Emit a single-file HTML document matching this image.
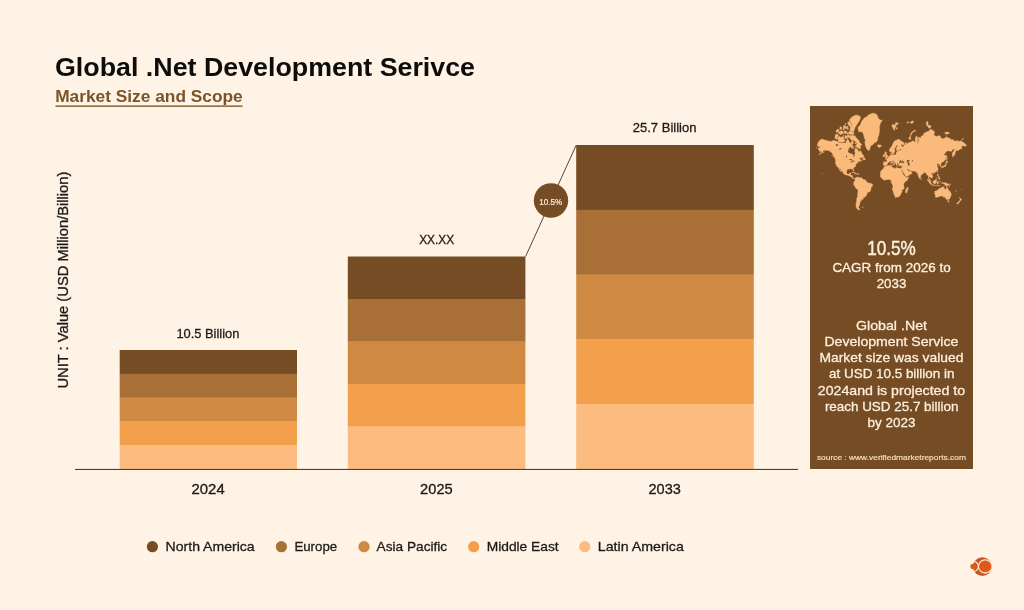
<!DOCTYPE html>
<html lang="en">
<head>
<meta charset="utf-8">
<title>Global .Net Development Serivce - Market Size and Scope</title>
<style>
html,body{margin:0;padding:0;background:#fef3e4;}
body{width:1024px;height:610px;overflow:hidden;font-family:"Liberation Sans", Arial, Helvetica, sans-serif;}
svg{display:block;font-family:"Liberation Sans", Arial, Helvetica, sans-serif;}
</style>
</head>
<body>
<svg width="1024" height="610" viewBox="0 0 1024 610">
<rect x="0" y="0" width="1024" height="610" fill="#fef3e4"/>
<text x="55.0" y="75.5" font-size="25" font-weight="700" fill="#0f0d0c" text-anchor="start" textLength="420" lengthAdjust="spacingAndGlyphs">Global .Net Development Serivce</text>
<text x="55.2" y="102" font-size="16.7" font-weight="700" fill="#7a5329" text-anchor="start" textLength="187.5" lengthAdjust="spacingAndGlyphs">Market Size and Scope</text>
<rect x="55.5" y="105.4" width="187" height="1.5" fill="#8a6336"/>
<text transform="translate(67.5,388.6) rotate(-90)" font-size="14.5" fill="#1e1a17" stroke="#1e1a17" stroke-width="0.3" textLength="217" lengthAdjust="spacingAndGlyphs">UNIT : Value (USD Million/Billion)</text>
<rect x="119.7" y="350.00" width="177.3" height="24.10" fill="#754c24"/>
<rect x="119.7" y="373.80" width="177.3" height="24.10" fill="#a86f37"/>
<rect x="119.7" y="397.60" width="177.3" height="24.10" fill="#d08943"/>
<rect x="119.7" y="421.40" width="177.3" height="24.10" fill="#f3a04d"/>
<rect x="119.7" y="445.20" width="177.3" height="24.10" fill="#fdbc7f"/>
<rect x="347.8" y="256.50" width="177.59999999999997" height="42.80" fill="#754c24"/>
<rect x="347.8" y="299.00" width="177.59999999999997" height="42.80" fill="#a86f37"/>
<rect x="347.8" y="341.50" width="177.59999999999997" height="42.80" fill="#d08943"/>
<rect x="347.8" y="384.00" width="177.59999999999997" height="42.80" fill="#f3a04d"/>
<rect x="347.8" y="426.50" width="177.59999999999997" height="42.80" fill="#fdbc7f"/>
<rect x="576.2" y="145.00" width="177.5999999999999" height="65.10" fill="#754c24"/>
<rect x="576.2" y="209.80" width="177.5999999999999" height="65.10" fill="#a86f37"/>
<rect x="576.2" y="274.60" width="177.5999999999999" height="65.10" fill="#d08943"/>
<rect x="576.2" y="339.40" width="177.5999999999999" height="65.10" fill="#f3a04d"/>
<rect x="576.2" y="404.20" width="177.5999999999999" height="65.10" fill="#fdbc7f"/>
<rect x="75" y="468.9" width="723" height="1.1" fill="#4a4038"/>
<line x1="525.6" y1="256.5" x2="576.2" y2="145.2" stroke="#3c342e" stroke-width="0.9"/>
<circle cx="551" cy="200.5" r="17.2" fill="#754c24"/>
<text x="539.3" y="205.2" font-size="9.8" font-weight="400" fill="#fdf0de" stroke="#fdf0de" stroke-width="0.22" text-anchor="start" textLength="22.9" lengthAdjust="spacingAndGlyphs">10.5%</text>
<text x="176.4" y="337.7" font-size="13.3" font-weight="400" fill="#1e1a17" stroke="#1e1a17" stroke-width="0.29" text-anchor="start" textLength="63" lengthAdjust="spacingAndGlyphs">10.5 Billion</text>
<text x="419.2" y="243.7" font-size="13.3" font-weight="400" fill="#1e1a17" stroke="#1e1a17" stroke-width="0.29" text-anchor="start" textLength="35" lengthAdjust="spacingAndGlyphs">XX.XX</text>
<text x="632.8" y="132.1" font-size="13.3" font-weight="400" fill="#1e1a17" stroke="#1e1a17" stroke-width="0.29" text-anchor="start" textLength="63.6" lengthAdjust="spacingAndGlyphs">25.7 Billion</text>
<text x="191.5" y="493.7" font-size="15" font-weight="400" fill="#1e1a17" stroke="#1e1a17" stroke-width="0.33" text-anchor="start" textLength="33.2" lengthAdjust="spacingAndGlyphs">2024</text>
<text x="420.1" y="493.7" font-size="15" font-weight="400" fill="#1e1a17" stroke="#1e1a17" stroke-width="0.33" text-anchor="start" textLength="32.6" lengthAdjust="spacingAndGlyphs">2025</text>
<text x="648.5" y="493.7" font-size="15" font-weight="400" fill="#1e1a17" stroke="#1e1a17" stroke-width="0.33" text-anchor="start" textLength="32.3" lengthAdjust="spacingAndGlyphs">2033</text>
<circle cx="152.4" cy="546.7" r="5.6" fill="#754c24"/>
<text x="165.6" y="550.6" font-size="13.3" font-weight="400" fill="#1e1a17" stroke="#1e1a17" stroke-width="0.29" text-anchor="start" textLength="89" lengthAdjust="spacingAndGlyphs">North America</text>
<circle cx="281.4" cy="546.7" r="5.6" fill="#a86f37"/>
<text x="294.4" y="550.6" font-size="13.3" font-weight="400" fill="#1e1a17" stroke="#1e1a17" stroke-width="0.29" text-anchor="start" textLength="42.8" lengthAdjust="spacingAndGlyphs">Europe</text>
<circle cx="364" cy="546.7" r="5.6" fill="#d08943"/>
<text x="376.6" y="550.6" font-size="13.3" font-weight="400" fill="#1e1a17" stroke="#1e1a17" stroke-width="0.29" text-anchor="start" textLength="70.6" lengthAdjust="spacingAndGlyphs">Asia Pacific</text>
<circle cx="473.7" cy="546.7" r="5.6" fill="#f3a04d"/>
<text x="486.7" y="550.6" font-size="13.3" font-weight="400" fill="#1e1a17" stroke="#1e1a17" stroke-width="0.29" text-anchor="start" textLength="72" lengthAdjust="spacingAndGlyphs">Middle East</text>
<circle cx="584.7" cy="546.7" r="5.6" fill="#fdbc7f"/>
<text x="597.8" y="550.6" font-size="13.3" font-weight="400" fill="#1e1a17" stroke="#1e1a17" stroke-width="0.29" text-anchor="start" textLength="86" lengthAdjust="spacingAndGlyphs">Latin America</text>
<rect x="810" y="106" width="163" height="363" fill="#754c24"/>
<path d="M817.2,145.4 818.1,142.5 819.7,140.2 822.0,138.9 824.8,139.9 828.5,141.0 831.0,141.4 833.9,140.2 835.2,141.1 837.3,141.3 839.3,142.9 842.3,143.1 844.8,143.1 846.9,142.3 847.5,138.2 848.9,141.1 849.8,142.3 851.0,143.4 851.9,141.1 853.1,140.9 853.3,144.0 851.4,144.8 851.0,146.5 849.6,147.3 848.5,149.3 847.9,151.4 848.7,152.9 850.6,153.5 851.9,154.2 853.0,154.3 853.1,155.9 853.7,157.0 854.4,156.9 854.4,155.1 855.3,153.3 854.6,151.5 855.0,150.1 854.8,148.5 856.4,148.5 858.1,149.7 858.3,151.5 859.8,151.5 860.4,150.3 861.4,152.5 862.3,154.1 863.5,155.5 864.1,156.5 862.9,157.0 862.3,157.7 859.8,157.7 858.5,158.9 860.2,158.4 860.4,159.4 860.4,160.2 861.9,160.5 862.3,160.2 861.7,160.8 860.6,161.3 859.8,161.8 859.8,161.1 859.4,160.9 858.5,161.5 857.9,162.0 857.8,162.7 858.1,162.8 857.3,163.1 856.4,163.4 856.4,164.0 855.8,164.6 855.6,165.4 855.8,166.2 855.0,166.8 854.1,167.4 853.5,168.1 853.4,169.1 853.9,170.3 853.9,171.1 853.4,171.1 852.8,169.9 852.8,169.3 852.3,168.9 851.6,169.0 850.6,168.7 850.0,168.8 850.1,169.3 849.4,169.2 848.1,169.1 846.9,169.9 846.7,171.0 846.5,172.4 847.1,173.7 847.9,174.3 848.9,174.1 849.6,173.6 849.6,173.0 851.0,172.8 850.8,173.9 850.5,175.0 850.4,175.3 851.9,175.3 852.6,175.7 852.4,177.2 852.9,178.1 853.5,178.3 854.1,178.0 855.1,178.4 854.9,178.9 854.4,178.3 853.8,178.9 852.8,178.6 851.9,177.8 851.5,177.4 850.8,176.5 849.8,176.2 848.8,175.8 847.9,175.2 846.9,175.3 845.6,174.8 844.6,174.4 843.4,173.6 843.3,172.8 842.9,171.9 841.7,170.8 840.6,169.5 840.2,168.3 839.5,168.1 839.6,168.9 840.4,170.1 841.0,171.0 841.6,172.0 841.3,172.1 840.5,171.2 839.7,170.2 839.4,169.8 839.0,168.9 838.5,167.7 837.9,166.9 837.0,166.7 836.5,165.6 836.2,165.0 835.7,164.0 835.5,163.6 835.5,162.1 835.6,160.2 835.3,158.9 836.0,158.6 835.9,158.3 835.2,157.7 834.1,157.2 833.9,156.2 833.1,154.8 832.5,153.8 831.6,152.5 830.6,151.9 829.8,151.2 828.9,150.7 827.3,150.5 826.0,149.9 825.4,150.5 824.1,151.1 824.5,149.5 823.7,150.1 823.1,151.5 822.0,152.7 821.2,153.5 820.0,154.3 818.6,154.7 819.7,153.8 820.6,153.3 821.6,151.7 821.0,151.8 819.7,151.6 819.7,150.5 818.5,149.9 818.1,148.8 818.7,147.7 820.2,147.4 820.2,146.5 818.9,146.5 817.9,146.3ZM835.8,158.9 835.0,158.6 833.8,157.4 834.3,157.3 835.2,157.9 835.7,158.6ZM862.6,159.4 863.9,159.8 865.2,160.0 865.3,159.4 865.0,158.3 864.2,157.9 864.1,156.9 863.4,157.3 863.1,158.2 862.6,159.0ZM869.0,150.6 867.3,149.7 866.2,147.9 865.6,146.0 865.0,144.0 864.8,141.1 865.8,140.5 864.4,138.6 863.9,135.9 862.9,132.7 861.0,131.5 858.7,131.9 858.1,129.2 857.9,127.6 860.2,125.0 861.7,121.3 864.4,117.8 866.4,116.9 869.0,114.5 873.5,113.1 876.9,114.5 878.5,118.4 880.2,119.9 882.3,119.9 880.2,123.8 879.4,127.2 879.6,131.0 879.0,133.6 879.2,135.1 878.1,136.6 878.1,138.0 877.3,138.6 878.1,139.9 877.3,140.5 876.2,142.2 874.4,142.8 873.1,144.5 871.7,145.3 870.6,146.0 870.2,147.9 869.6,149.3 869.4,150.5ZM877.3,145.5 878.1,144.8 879.8,145.0 881.0,145.0 881.5,146.0 880.8,146.6 879.6,147.4 878.1,147.1 878.2,146.3 877.4,146.1ZM854.9,178.9 855.0,178.4 855.8,178.0 855.9,177.5 856.9,177.2 857.6,176.8 857.4,177.6 858.1,177.2 858.8,177.6 860.4,177.7 861.4,177.5 861.9,178.0 862.3,178.5 863.3,179.4 864.8,179.6 865.8,180.2 866.4,181.3 866.4,182.0 867.2,182.3 868.7,183.0 870.0,183.2 871.2,183.6 872.6,184.2 872.7,185.1 872.5,186.0 871.8,186.8 871.1,187.5 871.0,188.8 870.8,189.8 870.3,191.2 869.8,191.8 868.7,192.0 867.9,192.4 867.1,193.1 867.0,194.3 866.2,195.6 865.5,196.2 865.0,197.1 864.4,197.5 863.4,197.3 863.0,197.1 863.4,198.2 863.3,199.3 861.4,199.6 861.3,200.7 860.2,200.8 860.7,201.6 860.1,202.2 860.0,203.1 859.2,203.7 859.9,204.8 859.2,205.8 858.5,206.8 858.8,207.7 858.7,208.0 860.1,209.4 859.4,209.9 858.1,209.7 857.3,209.0 856.4,208.0 856.0,206.5 856.2,204.9 855.8,204.1 856.4,202.5 856.7,201.3 856.5,200.0 856.7,198.7 857.1,197.6 857.5,196.3 857.5,195.1 857.7,193.7 857.9,192.1 858.0,190.3 857.9,189.8 857.3,189.3 856.0,188.5 855.5,187.8 855.1,187.0 854.6,186.0 854.0,185.0 853.4,184.5 853.4,183.8 853.9,183.3 853.6,182.9 853.7,182.2 853.9,181.7 854.4,181.4 854.6,180.9 855.1,180.4 855.0,179.5ZM884.8,166.0 886.5,166.3 887.7,165.6 889.4,165.5 891.1,165.3 891.9,165.4 891.6,166.7 891.5,166.9 892.0,167.3 892.7,167.5 893.7,167.8 895.2,168.7 895.6,168.4 895.6,167.7 896.5,167.5 897.7,168.1 899.4,168.4 900.2,168.1 900.8,168.3 900.9,168.9 901.4,170.1 902.1,171.7 902.7,173.0 902.9,173.9 903.4,174.4 903.8,175.5 904.5,175.9 905.3,176.7 905.4,177.2 905.9,177.6 906.9,177.3 908.7,177.0 908.5,178.0 907.9,179.1 907.3,180.1 906.5,181.0 905.6,181.6 904.8,182.4 904.2,183.0 903.7,184.0 903.5,184.7 903.8,185.6 904.0,186.4 904.2,188.1 903.8,189.0 902.7,189.5 901.9,190.4 902.1,191.4 902.1,192.3 901.1,193.0 901.0,193.9 900.4,194.9 899.8,195.9 898.8,196.8 898.0,197.1 896.7,197.1 895.6,197.5 895.0,197.2 894.9,196.3 894.5,195.1 894.1,194.5 893.6,193.5 893.3,191.8 892.5,189.9 892.2,189.0 892.7,187.5 893.0,186.5 892.8,185.7 892.4,184.5 892.2,183.9 891.4,183.0 891.0,182.3 891.3,181.6 891.3,180.5 891.0,180.1 890.2,180.2 889.6,179.7 889.1,179.4 888.1,179.4 886.9,179.8 886.5,180.0 885.4,179.8 884.2,180.2 883.4,179.7 882.5,179.1 881.8,178.4 881.5,177.9 881.0,177.4 880.3,176.8 880.0,175.8 880.4,175.2 880.5,173.9 880.2,173.0 880.6,171.8 881.1,170.8 881.9,169.9 882.5,169.6 883.1,169.1 883.3,168.4 883.5,167.7 884.0,167.2 884.5,166.9ZM907.9,187.0 908.3,188.5 907.9,189.2 907.5,190.5 907.1,191.9 906.9,192.8 906.1,193.0 905.6,192.8 905.4,191.6 905.8,190.5 905.6,189.4 906.5,188.7 907.3,187.7ZM885.0,165.9 884.6,165.4 883.6,165.4 883.3,164.5 883.6,162.9 883.4,162.1 884.0,161.7 885.6,161.8 886.5,161.9 886.8,161.2 886.8,160.3 886.4,159.6 885.4,159.2 885.3,158.8 886.6,158.7 886.5,158.0 887.4,158.2 888.0,157.3 888.8,156.9 889.3,155.8 890.2,155.5 891.0,155.1 890.8,154.1 890.7,152.9 891.7,152.4 891.6,153.7 891.4,154.4 891.5,154.8 891.9,155.1 893.1,155.1 895.0,154.6 895.4,154.9 896.1,154.2 896.1,152.9 897.1,151.2 899.0,150.9 899.8,150.5 897.7,150.4 896.7,150.5 896.2,149.7 896.3,147.9 897.7,146.0 897.3,145.2 896.5,145.3 896.1,146.5 894.6,148.4 894.5,149.7 895.1,150.5 894.8,151.4 894.2,152.5 894.0,153.5 893.3,154.1 892.7,154.1 892.5,153.5 892.1,152.2 891.9,151.4 890.6,152.1 889.6,151.5 889.4,149.7 889.8,148.4 891.1,147.2 891.9,146.0 892.7,144.0 893.6,142.3 894.8,140.8 896.3,140.3 898.1,139.2 899.2,139.3 900.2,140.2 901.1,141.1 902.3,141.5 904.4,143.4 904.5,144.3 903.4,144.9 901.5,144.3 901.1,144.5 901.8,146.5 902.9,147.1 903.1,146.5 904.0,146.3 904.0,145.0 905.6,144.8 905.4,142.3 906.5,142.9 906.7,144.0 909.4,142.3 911.5,142.0 912.5,140.8 914.2,141.4 915.2,142.0 915.9,142.5 915.2,140.5 915.2,139.3 915.9,136.6 916.5,136.2 917.7,136.9 917.5,139.3 917.7,141.7 917.5,144.3 918.2,142.9 918.6,140.5 918.4,137.3 919.8,137.7 920.9,138.0 921.1,135.9 923.4,135.4 923.6,133.6 926.5,131.9 929.0,131.0 930.8,128.8 931.9,130.1 934.0,131.0 934.6,132.7 933.6,135.1 934.4,135.4 936.9,136.6 939.0,135.6 940.3,135.9 941.3,138.6 942.3,138.6 944.0,138.6 945.7,137.3 948.2,137.6 949.8,138.6 951.1,139.4 953.6,139.7 954.0,140.9 956.1,141.0 958.2,140.5 958.6,141.7 960.7,140.8 962.4,141.7 964.4,143.2 966.5,144.9 965.5,146.6 963.4,145.7 962.4,146.0 961.7,146.5 961.3,146.3 961.9,147.9 962.1,148.5 960.3,149.0 959.0,149.9 958.3,150.5 956.5,150.5 955.9,150.7 955.5,152.2 954.9,152.3 955.3,153.7 954.9,154.6 954.0,155.8 953.4,155.9 952.6,157.2 952.4,155.8 952.2,154.1 952.4,152.9 953.2,151.9 954.0,150.5 955.3,149.3 955.7,148.4 954.4,149.7 954.0,149.0 952.8,149.2 951.9,150.9 950.7,151.4 949.4,150.9 946.9,151.1 945.7,152.5 944.6,154.1 943.7,154.6 944.4,155.1 945.7,155.5 946.2,156.3 945.9,157.9 945.7,159.1 945.1,160.0 944.0,161.2 943.0,162.1 942.3,162.0 941.8,162.4 941.4,163.2 940.5,163.9 940.8,164.5 941.3,165.4 941.2,166.1 940.7,166.4 940.1,166.7 940.0,166.1 940.2,165.4 939.4,164.8 939.6,164.0 939.0,163.9 938.0,164.3 937.8,164.4 938.2,163.5 937.8,163.3 936.9,164.2 936.4,164.3 936.8,164.8 937.0,165.3 938.4,165.2 937.5,165.8 937.0,166.4 937.5,167.2 938.1,168.0 938.1,168.5 937.8,168.7 938.2,169.0 938.0,169.7 937.3,170.5 937.0,171.0 936.5,171.5 935.9,172.1 934.9,172.5 934.0,172.7 933.4,172.9 933.3,173.4 933.0,172.8 932.3,172.8 931.8,173.1 931.4,173.9 931.7,174.6 932.5,175.2 932.9,176.5 932.8,177.2 931.9,177.6 931.8,178.0 931.1,178.4 931.1,177.8 930.5,177.6 930.0,177.0 929.4,176.7 929.2,176.3 929.0,176.7 928.8,177.6 929.0,178.2 929.2,179.0 929.8,179.2 930.4,179.9 930.5,180.5 930.8,181.4 930.4,181.5 929.5,180.8 929.2,180.1 929.1,179.4 928.3,178.7 928.4,177.8 928.5,177.0 928.2,176.1 928.0,175.0 927.3,174.9 927.0,175.3 926.6,175.2 926.7,174.4 926.3,173.5 925.7,173.0 925.6,172.4 925.0,172.6 924.4,172.7 923.6,172.8 923.5,173.4 922.7,173.7 921.6,174.9 920.7,175.5 920.7,176.4 920.6,177.7 920.2,178.1 919.9,178.3 919.6,178.6 919.1,177.9 918.6,176.7 918.3,175.8 917.9,174.8 917.7,173.9 917.7,173.0 917.5,172.6 916.9,173.1 916.1,172.5 916.5,172.1 915.7,171.8 915.2,171.3 915.0,171.0 913.0,171.1 911.5,171.0 911.1,170.3 910.8,170.2 909.8,170.5 908.8,169.9 908.4,169.1 907.7,168.7 907.3,168.9 907.3,169.2 907.6,169.8 908.2,170.4 908.2,171.0 908.8,170.8 908.8,171.5 909.8,171.6 910.8,170.7 910.9,171.5 911.8,171.9 912.2,172.4 911.7,173.3 911.4,173.9 910.3,174.6 909.0,175.2 907.6,176.1 906.1,176.6 905.4,176.7 905.1,175.8 905.1,175.0 904.4,173.9 903.6,172.8 902.9,171.5 902.1,170.1 901.8,169.5 901.9,169.1 901.6,169.8 901.6,170.0 901.1,169.5 900.9,168.9 900.8,168.3 901.6,168.2 901.9,167.5 902.2,166.4 902.4,165.6 901.5,165.7 900.6,165.8 900.1,165.5 899.4,165.7 898.8,165.4 898.3,164.7 898.6,164.3 898.2,163.8 898.8,163.6 899.4,163.5 899.5,163.1 900.4,163.1 901.3,162.7 901.9,162.7 902.5,163.1 903.4,163.3 904.6,162.9 904.4,162.1 903.6,161.5 902.9,160.9 903.1,160.3 903.7,159.6 903.1,159.7 902.5,159.9 901.9,160.2 902.0,160.8 902.5,160.8 902.0,161.0 901.4,161.3 900.9,160.7 901.3,160.3 900.6,160.0 900.1,160.1 899.7,160.8 899.2,161.7 898.9,162.3 899.0,162.9 899.4,163.1 899.0,163.2 898.5,163.4 898.1,163.3 897.3,163.3 897.2,163.8 896.8,163.6 896.8,164.2 897.1,164.6 897.3,165.0 896.9,165.2 896.9,165.6 896.6,165.6 896.3,165.5 896.1,164.8 896.0,164.3 895.6,163.8 895.4,162.9 895.0,162.4 894.0,161.8 893.3,160.9 893.0,160.6 892.4,160.8 892.5,161.4 893.0,161.8 893.3,162.5 894.0,162.7 895.0,163.7 894.4,163.6 894.2,164.0 894.4,164.3 894.0,164.8 893.8,164.8 894.0,164.2 893.8,163.8 893.3,163.3 892.4,162.8 891.7,162.2 891.6,161.6 891.0,161.3 890.4,161.6 889.6,161.9 888.6,162.0 888.6,162.5 888.2,163.0 887.5,163.4 887.2,164.0 887.4,164.4 887.0,165.0 886.4,165.5 885.5,165.5ZM891.9,153.9 892.5,153.7 892.5,154.3 892.1,154.5ZM884.9,157.9 886.0,157.5 887.8,157.1 888.0,156.0 887.4,155.7 887.2,155.1 886.7,154.4 886.5,153.7 886.5,152.5 885.8,152.4 886.0,151.7 885.2,151.7 884.9,152.5 884.7,153.3 885.1,154.1 885.3,154.6 886.0,155.1 886.0,155.6 885.4,155.6 885.5,156.2 885.1,156.7 886.0,156.9 885.4,157.2ZM883.1,156.8 884.0,156.7 884.7,156.4 884.8,155.5 885.0,154.8 884.7,154.3 883.9,154.3 883.1,155.0 883.2,155.6 883.0,156.4ZM941.9,166.9 942.6,166.1 943.8,166.1 944.3,165.2 945.1,165.2 945.6,164.3 945.7,163.5 946.2,163.0 946.4,163.8 946.5,164.0 946.1,164.7 946.0,165.5 946.0,166.0 945.6,166.4 945.2,166.6 944.4,166.6 944.3,166.8 943.9,167.2 943.6,166.7 942.8,166.8 942.3,167.0ZM945.7,162.9 945.8,162.0 946.4,160.7 946.9,161.4 947.9,161.4 948.0,161.9 947.1,162.7 946.1,162.4 945.9,162.7ZM941.5,167.2 942.2,167.1 942.3,167.7 941.9,168.2 941.6,168.3 941.5,167.7 941.4,167.3ZM942.6,167.0 943.4,166.8 943.3,167.2 942.8,167.5 942.5,167.3ZM946.5,154.9 946.9,155.8 947.1,157.2 946.9,158.3 947.6,158.5 946.9,159.4 947.1,160.2 946.5,160.3 946.5,159.1 946.5,157.5 946.4,156.5ZM938.0,171.1 938.2,171.5 937.7,172.6 937.3,172.1 937.7,171.3ZM932.6,173.8 933.2,173.4 933.6,173.7 933.2,174.2 932.7,174.1ZM920.6,177.9 921.2,178.4 921.4,179.1 921.1,179.5 920.7,179.5 920.5,178.7ZM927.0,179.7 928.0,179.8 929.1,180.8 930.5,181.8 930.9,182.6 931.5,183.3 931.4,184.4 930.9,184.4 930.0,183.7 929.2,182.5 928.5,181.3 927.7,180.7ZM931.2,184.8 931.7,184.5 932.5,184.7 933.5,184.7 934.3,184.9 935.0,185.3 935.0,185.6 933.6,185.5 932.5,185.3 931.7,185.1ZM932.8,181.4 933.0,181.2 933.7,180.8 934.4,180.6 935.3,179.9 936.0,179.1 936.4,179.4 937.0,179.8 936.5,180.2 936.4,181.0 936.9,181.6 936.3,182.3 935.9,183.0 935.7,183.7 935.0,183.7 934.4,183.4 933.9,183.5 933.3,183.2 933.2,182.5 932.8,182.0ZM937.3,181.7 937.7,181.5 938.6,181.6 939.4,181.3 939.1,181.8 937.8,181.8 937.3,182.3 938.0,182.4 938.7,182.4 938.2,182.8 938.1,183.2 938.6,183.7 938.4,184.2 938.0,184.0 937.8,183.3 937.5,183.4 937.5,184.3 937.1,184.3 937.1,183.5 936.8,183.1ZM941.9,182.3 943.2,182.3 943.6,183.4 944.8,182.6 946.1,183.1 947.6,183.6 948.2,184.3 948.9,184.6 948.7,184.9 949.2,185.7 950.1,186.4 948.8,186.2 948.2,185.6 947.3,185.2 946.9,185.9 946.1,185.9 945.3,185.4 944.8,185.5 945.2,184.8 944.8,184.2 943.6,183.9 942.8,183.7 942.7,183.2 942.1,182.6ZM937.5,174.1 938.3,174.1 938.3,175.0 938.0,175.7 938.2,176.1 939.0,176.5 939.0,176.7 938.4,176.3 937.8,176.2 937.5,175.8 937.3,175.2ZM938.2,179.1 938.8,178.4 939.6,177.9 940.1,178.7 939.9,179.4 939.6,179.6 939.0,179.4 938.8,178.9ZM938.2,177.0 939.4,176.7 939.6,177.6 938.8,178.1 938.2,177.6ZM936.2,178.5 937.1,177.3 937.0,177.7 936.3,178.5ZM935.3,185.4 936.9,185.5 938.6,185.4 938.6,185.7 936.9,185.7 935.3,185.6ZM938.8,186.3 940.4,185.5 939.8,185.9 939.0,186.3ZM934.6,191.4 934.8,191.3 936.0,190.7 936.9,190.5 938.0,190.2 938.3,189.3 938.8,189.3 939.2,188.5 940.2,187.9 940.9,188.2 941.3,188.3 941.5,187.5 941.8,187.2 942.6,186.7 943.6,187.0 944.3,187.0 944.0,187.7 943.8,188.3 944.6,188.8 945.5,189.4 946.0,189.4 946.3,188.3 946.4,187.4 946.7,186.5 947.1,187.3 947.3,188.0 947.9,188.3 948.2,189.6 948.8,190.2 949.4,190.7 950.1,191.6 950.3,192.2 951.1,193.0 951.3,194.2 951.1,195.6 950.6,196.6 950.2,197.6 949.8,198.8 949.0,199.1 948.3,199.7 947.6,199.3 947.1,199.6 946.1,199.2 945.5,198.1 944.9,197.3 944.8,196.6 944.0,197.6 943.8,197.4 943.2,196.5 942.1,195.9 941.0,196.1 939.8,196.2 939.0,196.6 938.8,197.0 937.3,197.0 936.5,197.6 935.9,197.6 935.3,197.2 935.5,196.1 935.3,195.1 934.8,193.9 934.5,193.2 934.8,192.3ZM947.6,200.6 949.1,200.7 949.1,201.3 948.8,202.0 948.2,202.2 947.9,201.6ZM959.3,197.3 960.0,197.8 960.5,198.4 960.7,198.9 961.7,199.0 961.5,199.7 961.1,199.9 961.1,200.4 960.4,201.1 960.2,200.9 960.3,200.3 959.8,199.8 960.1,199.2 960.1,198.5 959.4,197.7ZM959.3,200.5 960.0,201.2 959.8,201.6 959.4,202.4 958.7,202.6 958.5,203.6 958.0,204.0 957.5,204.0 956.7,203.7 957.1,202.9 957.6,202.5 958.4,201.8 958.8,201.2 959.1,200.6ZM891.9,125.0 893.1,124.0 894.0,125.6 895.2,124.3 896.5,125.4 895.6,126.9 894.8,129.0 894.4,130.5 893.6,129.5 892.9,127.8 892.1,126.5ZM895.0,123.3 896.9,122.6 898.6,123.6 897.3,124.7 895.6,124.3ZM896.1,127.8 897.3,127.6 897.1,129.2 896.3,129.0ZM906.5,122.6 909.0,121.5 908.1,123.3ZM909.8,122.8 912.3,120.7 914.0,121.8 911.9,123.6ZM908.8,138.6 909.4,139.3 911.1,139.3 910.4,137.3 911.1,135.1 912.3,132.7 915.9,130.5 914.8,130.1 912.7,131.4 910.9,133.2 910.4,135.9 909.4,136.9ZM926.9,126.1 929.0,125.0 931.1,126.1 930.7,127.6 928.6,128.2 927.7,125.0 928.2,122.6 927.3,121.3 926.1,122.6ZM944.4,132.7 947.3,131.9 949.8,133.1 948.2,133.9 945.7,133.9ZM945.7,135.7 946.9,136.0 946.5,136.4ZM961.7,139.0 963.2,138.6 963.4,139.3 961.9,139.5ZM851.9,172.7 852.9,172.1 853.9,172.1 855.2,172.8 856.4,173.4 855.0,173.5 854.8,173.2 853.7,172.6 853.1,172.5 852.3,172.7ZM856.3,174.1 856.9,173.5 858.1,173.6 858.8,174.1 858.1,174.3 857.4,174.5ZM854.6,174.2 855.5,174.3 855.2,174.5ZM859.3,174.1 859.9,174.2 859.6,174.4ZM892.5,164.8 893.8,164.7 893.6,165.5 892.5,165.1ZM890.7,163.2 891.3,163.2 891.3,164.2 890.8,164.3ZM890.9,162.4 891.3,162.1 891.2,162.9 891.0,162.9ZM897.1,166.1 898.3,166.3 897.3,166.4ZM900.8,166.4 901.7,166.1 901.3,166.6ZM861.9,207.1 863.1,207.0 862.7,207.7ZM822.2,173.4 822.7,173.7 822.4,173.9ZM822.9,152.5 823.7,152.2 823.7,152.8 823.1,153.1ZM831.8,155.1 832.3,155.1 832.6,156.4 832.1,156.0ZM815.8,147.4 816.8,147.6 816.4,147.9ZM909.6,176.7 910.0,176.7 909.8,176.8ZM955.7,190.6 956.9,191.5 956.6,191.5 955.7,190.8ZM949.2,184.3 950.7,183.8 950.8,184.2 949.6,184.6ZM940.5,181.2 940.9,181.4 940.7,182.3 940.5,181.8ZM940.7,183.3 941.8,183.3 941.3,183.5ZM961.2,189.4 961.8,189.5 961.5,189.7Z" fill="#f9ba7b" stroke="#f9ba7b" stroke-width="0.35" stroke-linejoin="round"/>
<path d="M860.2,148.8 858.1,148.1 856.2,146.8 854.8,146.5 856.4,145.5 856.9,143.4 855.2,141.1 853.5,140.5 851.4,139.9 850.0,138.6 850.0,135.9 851.9,135.6 853.5,135.6 855.2,136.0 855.6,137.3 857.7,139.3 858.9,140.5 859.4,142.3 861.4,144.0 861.7,144.5 860.8,146.0 859.4,145.0 860.2,146.5 860.6,147.6ZM838.5,141.7 840.2,142.3 842.3,142.1 843.5,142.0 845.0,141.1 843.9,139.3 843.5,136.9 841.8,136.9 841.0,137.4 839.3,136.2 837.9,137.3 838.3,139.0 837.7,138.6 838.3,139.9ZM836.0,139.3 835.0,138.0 835.4,134.8 836.8,134.3 838.3,134.8 837.7,136.6 837.1,138.6ZM853.1,131.4 850.2,131.2 850.2,128.2 851.9,125.0 851.0,122.6 849.4,119.9 851.9,116.9 856.0,114.9 859.4,115.9 860.6,117.2 859.4,120.7 857.7,123.3 856.0,126.1 854.8,127.8 854.1,130.1 853.7,131.5ZM854.1,134.0 851.9,134.5 849.1,134.0 848.9,131.5 850.2,131.4 852.3,132.2 853.9,132.6ZM851.0,127.6 848.5,125.0 847.7,122.6 849.4,121.3 851.0,123.8ZM847.5,138.0 849.6,137.3 849.8,135.4 847.5,135.1ZM844.8,138.6 846.9,138.2 846.9,135.9 845.2,135.4ZM838.5,133.2 840.6,134.5 843.1,133.6 843.1,131.5 841.8,131.0 839.8,131.4 838.5,131.9ZM843.9,133.2 846.4,133.6 846.4,131.0 844.3,131.0ZM845.8,141.7 847.3,141.7 847.3,140.8 846.2,140.8ZM850.9,147.4 851.6,147.7 852.7,147.2 853.7,147.4 853.3,146.7 852.3,145.1 851.4,145.0 851.0,146.2ZM836.0,131.9 837.7,132.2 839.1,130.1 838.1,129.0 836.4,130.3ZM843.3,128.8 845.6,128.6 846.0,126.5 843.9,125.2ZM846.5,128.6 847.9,128.6 847.9,126.5 846.6,126.5ZM839.8,129.3 841.8,129.3 841.4,126.9 840.0,126.9ZM847.1,134.2 848.5,134.2 848.3,132.7 847.3,132.7ZM843.1,130.1 843.9,130.1 843.7,129.0ZM847.1,129.3 848.5,129.3 847.9,128.4ZM845.4,124.5 846.2,124.5 845.8,123.1ZM855.0,143.7 855.8,143.6 855.6,142.6 855.1,142.9ZM852.6,148.6 853.7,148.4 853.3,147.9 852.7,148.1ZM842.9,136.6 843.7,136.6 843.7,135.4 843.1,135.6Z" fill="#f9ba7b" stroke="#f9ba7b" stroke-width="0.5" stroke-linejoin="round"/>
<path d="M906.9,160.6 907.7,160.0 908.6,159.7 909.4,159.9 909.4,160.9 908.6,161.2 908.3,162.1 909.2,162.4 909.4,163.2 909.6,164.0 909.8,165.1 909.0,165.5 908.1,165.2 907.7,164.6 907.9,163.6 907.3,162.7 907.1,162.1 906.8,161.2ZM848.9,159.9 850.2,159.1 851.4,159.1 852.1,159.9 851.0,160.0 849.8,160.0ZM850.7,162.7 851.3,162.7 851.8,160.6 851.2,160.3 850.7,161.5ZM852.1,160.3 853.5,160.3 853.9,161.1 853.2,162.0 852.9,162.0 852.5,161.2ZM852.6,162.8 853.9,162.5 854.4,162.2 853.3,162.9ZM854.1,161.9 855.5,161.8 855.4,161.5 854.4,161.6ZM846.0,157.5 847.1,157.5 846.6,155.5 846.0,155.8ZM835.6,145.5 837.7,146.0 838.1,144.5 836.4,144.0ZM838.5,149.7 840.6,149.4 841.6,148.1 839.8,148.4ZM911.7,161.5 912.7,161.4 912.9,160.3 912.1,160.0ZM900.0,150.5 901.1,150.1 900.6,149.1 899.8,149.5Z" fill="#754c24"/>
<text x="867.2" y="255.4" font-size="20.4" font-weight="400" fill="#fdf0de" stroke="#fdf0de" stroke-width="0.45" text-anchor="start" textLength="48.6" lengthAdjust="spacingAndGlyphs">10.5%</text>
<text x="832.4" y="271.9" font-size="13" font-weight="400" fill="#fdf0de" stroke="#fdf0de" stroke-width="0.29" text-anchor="start" textLength="118.3" lengthAdjust="spacingAndGlyphs">CAGR from 2026 to</text>
<text x="876.7" y="288.2" font-size="13" font-weight="400" fill="#fdf0de" stroke="#fdf0de" stroke-width="0.29" text-anchor="start" textLength="29.7" lengthAdjust="spacingAndGlyphs">2033</text>
<text x="856.0" y="329.6" font-size="13" font-weight="400" fill="#fdf0de" stroke="#fdf0de" stroke-width="0.29" text-anchor="start" textLength="71" lengthAdjust="spacingAndGlyphs">Global .Net</text>
<text x="824.4" y="345.8" font-size="13" font-weight="400" fill="#fdf0de" stroke="#fdf0de" stroke-width="0.29" text-anchor="start" textLength="134" lengthAdjust="spacingAndGlyphs">Development Service</text>
<text x="819.4" y="362.1" font-size="13" font-weight="400" fill="#fdf0de" stroke="#fdf0de" stroke-width="0.29" text-anchor="start" textLength="144" lengthAdjust="spacingAndGlyphs">Market size was valued</text>
<text x="829.1" y="378.4" font-size="13" font-weight="400" fill="#fdf0de" stroke="#fdf0de" stroke-width="0.29" text-anchor="start" textLength="125.3" lengthAdjust="spacingAndGlyphs">at USD 10.5 billion in</text>
<text x="817.8" y="394.7" font-size="13" font-weight="400" fill="#fdf0de" stroke="#fdf0de" stroke-width="0.29" text-anchor="start" textLength="147.3" lengthAdjust="spacingAndGlyphs">2024and is projected to</text>
<text x="824.9" y="411.0" font-size="13" font-weight="400" fill="#fdf0de" stroke="#fdf0de" stroke-width="0.29" text-anchor="start" textLength="133.5" lengthAdjust="spacingAndGlyphs">reach USD 25.7 billion</text>
<text x="867.6" y="427.3" font-size="13" font-weight="400" fill="#fdf0de" stroke="#fdf0de" stroke-width="0.29" text-anchor="start" textLength="48" lengthAdjust="spacingAndGlyphs">by 2023</text>
<text x="816.9" y="459.8" font-size="8" font-weight="400" fill="#f3dcc0" stroke="#f3dcc0" stroke-width="0.18" text-anchor="start" textLength="149" lengthAdjust="spacingAndGlyphs">source : www.verifiedmarketreports.com</text>
<clipPath id="lg"><circle cx="982.4" cy="566.7" r="9.4"/></clipPath>
<circle cx="982.4" cy="566.7" r="9.4" fill="#c9571f"/>
<g clip-path="url(#lg)" fill="none" stroke="#fce6cf"><circle cx="973.1" cy="566.4" r="5.2" stroke-width="1.2"/><circle cx="985.2" cy="566.4" r="6.6" stroke-width="1.3"/></g>
<circle cx="985.2" cy="566.4" r="5.7" fill="#e2581c"/>
<circle cx="973.1" cy="566.4" r="2.7" fill="#d55f22"/>
</svg>
</body>
</html>
